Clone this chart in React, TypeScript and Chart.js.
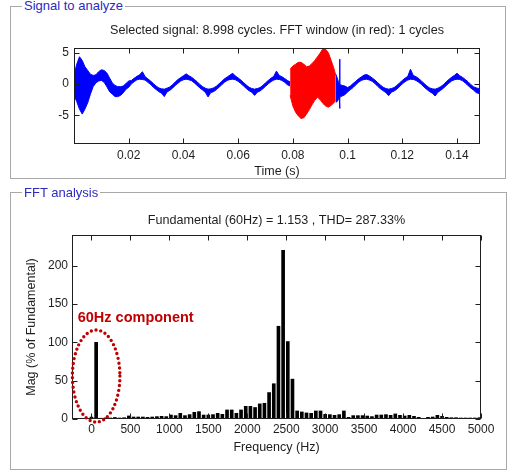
import React, { useEffect, useRef } from 'react';
import { Chart, registerables } from 'chart.js';

Chart.register(...registerables);

const FONT = '"Liberation Sans", Arial, Helvetica, sans-serif';
const INK = '#1e1e1e';
const PANEL_TITLE = '#2b2bc0';
const CALLOUT = '#c00000';

// ---------------- Panel 1: signal to analyze ----------------
const signalPanelLabel = 'Signal to analyze';
const signalTitle = 'Selected signal: 8.998 cycles. FFT window (in red): 1 cycles';
const timeAxisLabel = 'Time (s)';
const timeMin = 0;
const timeMax = 0.1484;
const timeTicks = [0.02, 0.04, 0.06, 0.08, 0.1, 0.12, 0.14];
const signalMin = -9.6;
const signalMax = 5.8;
const signalTicks = [-5, 0, 5];

// blue trace before the FFT window (time in ms, upper / lower edge of the noisy trace)
const blueATimeMs = [
  0, 1, 2, 3, 4, 5, 6, 7, 8, 9, 10, 11, 12, 13, 14, 15, 16, 17, 18, 19,
  20, 21, 22, 23, 24, 25, 26, 27, 28, 29, 30, 31, 32, 33, 34, 35, 36, 37, 38, 39,
  40, 41, 42, 43, 44, 45, 46, 47, 48, 49, 50, 51, 52, 53, 54, 55, 56, 57, 58, 59,
  60, 61, 62, 63, 64, 65, 66, 67, 68, 69, 70, 71, 72, 73, 74, 75, 76, 77, 78, 79,
];
const blueAUpper = [
  1.5, 3.2, 4.4, 3.8, 2.8, 2.2, 1.6, 1.4, 1.5, 2.0, 2.3, 2.2, 1.8, 1.0, 0.2, -0.2, -0.4, -0.4, -0.3, 0.1,
  0.5, 0.6, 0.95, 1.25, 1.5, 2.0, 1.2, 0.85, 0.5, 0.1, -0.3, -0.6, -0.75, -0.8, -0.65, -0.45, -0.1, 0.35, 0.75, 1.05,
  1.35, 1.65, 1.35, 1.1, 0.75, 0.4, -0.05, -0.4, -0.65, -0.8, -0.75, -0.6, -0.35, 0.05, 0.45, 0.85, 1.15, 1.45, 1.75, 1.3,
  1.0, 0.65, 0.25, -0.15, -0.5, -0.7, -0.8, -0.7, -0.55, -0.2, 0.2, 0.6, 0.95, 1.25, 2.1, 1.4, 1.2, 0.9, 0.6, 0.35,
];
const blueALower = [
  -1.8, -2.8, -4.0, -4.8, -4.0, -3.0, -1.6, -0.4, 0.2, 0.5, 0.6, 0.3, -0.4, -1.2, -1.6, -2.0, -2.0, -1.8, -1.4, -0.8,
  -0.5, 0.05, 0.4, 0.7, 0.8, 0.75, 0.65, 0.3, -0.05, -0.5, -0.85, -1.2, -1.45, -2.0, -1.25, -1.0, -0.65, -0.2, 0.15, 0.5,
  0.7, 0.8, 0.7, 0.55, 0.2, -0.2, -0.6, -0.95, -1.3, -2.05, -1.35, -1.2, -0.9, -0.5, -0.1, 0.3, 0.6, 0.75, 0.8, 0.7,
  0.45, 0.1, -0.3, -0.7, -1.05, -1.3, -1.8, -1.3, -1.1, -0.75, -0.35, 0.05, 0.4, 0.65, 0.8, 0.75, 0.6, 0.3, -0.1, -0.3,
];

// red FFT window
const redTimeMs = [79, 80, 81, 82, 83, 84, 85, 86, 87, 88, 89, 90, 91, 92, 93, 94, 95, 95.7];
const redUpper = [2.4, 2.9, 3.2, 3.5, 3.5, 3.2, 2.8, 2.9, 3.3, 3.8, 4.4, 5.0, 5.7, 5.6, 5.0, 3.8, 2.5, 1.4];
const redLower = [-1.8, -3.5, -4.5, -5.1, -5.5, -5.4, -4.8, -4.1, -3.3, -2.6, -2.1, -2.5, -3.1, -3.5, -3.7, -3.4, -3.0, -2.6];

// blue trace after the FFT window
const blueBTimeMs = [
  95.7, 96.2, 96.7, 97.0, 97.1, 97.2, 97.5, 98, 99,
  100, 101, 102, 103, 104, 105, 106, 107, 108, 109, 110, 111, 112, 113, 114, 115, 116, 117, 118, 119,
  120, 121, 122, 123, 124, 125, 126, 127, 128, 129, 130, 131, 132, 133, 134, 135, 136, 137, 138, 139,
  140, 141, 142, 143, 144, 145, 146, 147, 148, 148.4,
];
const blueBUpper = [
  1.6, 1.0, 0.3, 0.0, 4.0, 0.0, -0.1, -0.2, -0.3,
  -0.55, -0.3, 0.1, 0.45, 0.85, 1.15, 1.45, 1.55, 1.3, 1.0, 0.65, 0.25, -0.15, -0.5, -0.7, -0.8, -0.7, -0.55, -0.2, 0.2,
  0.6, 0.95, 1.25, 2.4, 1.4, 1.2, 0.9, 0.5, 0.1, -0.3, -0.6, -0.75, -0.8, -0.65, -0.4, -0.1, 0.35, 0.75, 1.1, 1.4,
  1.75, 1.35, 1.1, 0.75, 0.4, -0.05, -0.4, -0.6, -0.7, -0.65,
];
const blueBLower = [
  -2.9, -2.8, -2.4, -2.2, -3.9, -2.2, -2.0, -1.9, -1.7,
  -1.25, -0.9, -0.55, -0.1, 0.3, 0.6, 0.75, 0.8, 0.65, 0.45, 0.1, -0.35, -0.75, -1.05, -1.35, -1.85, -1.3, -1.1, -0.8, -0.4,
  0.05, 0.4, 0.65, 0.8, 0.75, 0.6, 0.3, -0.05, -0.5, -0.85, -1.2, -1.45, -1.9, -1.3, -1.0, -0.65, -0.25, 0.15, 0.5, 0.7,
  0.8, 0.75, 0.55, 0.2, -0.2, -0.6, -0.95, -1.35, -1.5, -1.2,
];

// ---------------- Panel 2: FFT analysis ----------------
const fftPanelLabel = 'FFT analysis';
const fftTitle = 'Fundamental (60Hz) = 1.153 , THD= 287.33%';
const freqAxisLabel = 'Frequency (Hz)';
const magAxisLabel = 'Mag (% of Fundamental)';
const freqMin = -250;
const freqMax = 5000;
const freqTicks = [0, 500, 1000, 1500, 2000, 2500, 3000, 3500, 4000, 4500, 5000];
const magMin = 0;
const magMax = 240;
const magTicks = [0, 50, 100, 150, 200];

const harmonicFreqHz = [
  0, 60, 120, 180, 240, 300, 360, 420, 480, 540, 600, 660, 720, 780, 840, 900, 960, 1020, 1080, 1140,
  1200, 1260, 1320, 1380, 1440, 1500, 1560, 1620, 1680, 1740, 1800, 1860, 1920, 1980, 2040, 2100, 2160, 2220, 2280, 2340,
  2400, 2460, 2520, 2580, 2640, 2700, 2760, 2820, 2880, 2940, 3000, 3060, 3120, 3180, 3240, 3300, 3360, 3420, 3480, 3540,
  3600, 3660, 3720, 3780, 3840, 3900, 3960, 4020, 4080, 4140, 4200, 4260, 4320, 4380, 4440, 4500, 4560, 4620, 4680, 4740,
  4800, 4860, 4920, 4980,
];
const harmonicMag = [
  2.5, 100, 1.0, 1.5, 1.3, 2.0, 1.3, 1.7, 4.0, 2.6, 2.6, 2.6, 2.2, 2.6, 3.1, 3.5, 3.1, 5.2, 4.4, 7.4,
  4.4, 5.7, 8.7, 9.6, 5.2, 5.2, 5.7, 7.4, 6.1, 11.8, 11.8, 7.4, 11.8, 16.5, 16.5, 15.0, 19.7, 20.5, 34.5, 46,
  121, 220, 101, 52, 10.5, 9.2, 7.9, 7.4, 10.5, 10.5, 6.1, 5.7, 4.8, 5.7, 10.5, 2.2, 4.4, 4.4, 4.4, 3.9,
  3.1, 5.2, 5.2, 5.7, 4.8, 6.6, 4.8, 3.9, 4.8, 3.5, 2.2, 0.9, 2.2, 2.6, 4.8, 3.5, 2.2, 1.7, 1.7, 1.3,
  1.3, 1.3, 1.3, 1.7,
];

const calloutText = '60Hz component';
const calloutAnchor = { x: -177, y: 132 }; // data units (Hz, %)
const ellipseCenter = { x: 60, y: 56 };
const ellipseRadius = { x: 305, y: 60 };

// ---------------- helpers ----------------
const toPoints = (tMs: number[], v: number[]) => tMs.map((t, i) => ({ x: t / 1000, y: v[i] }));

const band = (tMs: number[], up: number[], lo: number[], color: string) => [
  {
    data: toPoints(tMs, up),
    borderColor: color,
    backgroundColor: color,
    borderWidth: 1,
    pointRadius: 0,
    fill: false,
    tension: 0,
  },
  {
    data: toPoints(tMs, lo),
    borderColor: color,
    backgroundColor: color,
    borderWidth: 1,
    pointRadius: 0,
    fill: '-1',
    tension: 0,
  },
];

type Deco = {
  id: string;
  title: string;
  titleGap: number;
  xTitle: string;
  xTitleGap: number;
  yTitle?: string;
  yTitleGap?: number;
  xTicks: number[];
  yTicks: number[];
  tickLen: number;
  extra?: (chart: any) => void;
};

const TITLE_FONT = `12.6px ${FONT}`;
const LABEL_FONT = `12.5px ${FONT}`;

function makeDeco(cfg: Deco) {
  return {
    id: cfg.id,
    afterDraw(chart: any) {
      const { ctx, chartArea: a } = chart;
      const xs = chart.scales.x;
      const ys = chart.scales.y;
      ctx.save();
      ctx.strokeStyle = INK;
      ctx.lineWidth = 1;
      const L = Math.round(a.left) + 0.5;
      const R = Math.round(a.right) - 0.5;
      const T = Math.round(a.top) + 0.5;
      const B = Math.round(a.bottom) - 0.5;
      ctx.strokeRect(L, T, R - L, B - T);
      ctx.beginPath();
      cfg.xTicks.forEach((v) => {
        const px = Math.round(xs.getPixelForValue(v)) + 0.5;
        ctx.moveTo(px, B);
        ctx.lineTo(px, B - cfg.tickLen);
        ctx.moveTo(px, T);
        ctx.lineTo(px, T + cfg.tickLen);
      });
      cfg.yTicks.forEach((v) => {
        const py = Math.round(ys.getPixelForValue(v)) + 0.5;
        ctx.moveTo(L, py);
        ctx.lineTo(L + cfg.tickLen, py);
        ctx.moveTo(R, py);
        ctx.lineTo(R - cfg.tickLen, py);
      });
      ctx.stroke();

      ctx.fillStyle = INK;
      ctx.textAlign = 'center';
      ctx.textBaseline = 'middle';
      const cx = (a.left + a.right) / 2;
      ctx.font = TITLE_FONT;
      ctx.fillText(cfg.title, cx, a.top - cfg.titleGap);
      ctx.font = LABEL_FONT;
      ctx.fillText(cfg.xTitle, cx, a.bottom + cfg.xTitleGap);
      if (cfg.yTitle) {
        ctx.save();
        ctx.translate(a.left - (cfg.yTitleGap || 40), (a.top + a.bottom) / 2);
        ctx.rotate(-Math.PI / 2);
        ctx.fillText(cfg.yTitle, 0, 0);
        ctx.restore();
      }
      if (cfg.extra) cfg.extra(chart);
      ctx.restore();
    },
  };
}

const tickFont = { family: FONT, size: 12 };

function fixedAxis(size: number, horizontal: boolean) {
  return (s: any) => {
    if (horizontal) s.height = size;
    else s.width = size;
    s.paddingLeft = 0;
    s.paddingRight = 0;
    s.paddingTop = 0;
    s.paddingBottom = 0;
  };
}

function SignalChart() {
  const ref = useRef<HTMLCanvasElement>(null);
  useEffect(() => {
    const chart = new Chart(ref.current as HTMLCanvasElement, {
      type: 'line',
      data: {
        datasets: [
          ...band(blueATimeMs, blueAUpper, blueALower, '#0000ff'),
          ...band(redTimeMs, redUpper, redLower, '#ff0000'),
          ...band(blueBTimeMs, blueBUpper, blueBLower, '#0000ff'),
        ] as any,
      },
      options: {
        animation: false,
        responsive: false,
        devicePixelRatio: 1,
        layout: { padding: { left: 34, right: 30, top: 48, bottom: 6 } },
        plugins: { legend: { display: false }, tooltip: { enabled: false }, title: { display: false } },
        scales: {
          x: {
            type: 'linear',
            min: timeMin,
            max: timeMax,
            afterBuildTicks: (s: any) => {
              s.ticks = timeTicks.map((v) => ({ value: v }));
            },
            afterFit: fixedAxis(30, true),
            grid: { display: false, drawTicks: false },
            border: { display: false },
            ticks: { font: tickFont, color: INK, padding: 4, maxRotation: 0, autoSkip: false, callback: (v: any) => String(v) },
          },
          y: {
            type: 'linear',
            min: signalMin,
            max: signalMax,
            afterBuildTicks: (s: any) => {
              s.ticks = signalTicks.map((v) => ({ value: v }));
            },
            afterFit: fixedAxis(40, false),
            grid: { display: false, drawTicks: false },
            border: { display: false },
            ticks: { font: tickFont, color: INK, padding: 5, autoSkip: false, callback: (v: any) => String(v) },
          },
        },
      } as any,
      plugins: [
        makeDeco({
          id: 'decoSignal',
          title: signalTitle,
          titleGap: 17,
          xTitle: timeAxisLabel,
          xTitleGap: 27.7,
          xTicks: timeTicks,
          yTicks: signalTicks,
          tickLen: 5,
        }),
      ],
    });
    return () => chart.destroy();
  }, []);
  return (
    <canvas
      ref={ref}
      width={510}
      height={180}
      style={{ position: 'absolute', left: 0, top: 0, width: 510, height: 180 }}
    />
  );
}

function FftChart() {
  const ref = useRef<HTMLCanvasElement>(null);
  useEffect(() => {
    const chart = new Chart(ref.current as HTMLCanvasElement, {
      type: 'bar',
      data: {
        datasets: [
          {
            data: harmonicFreqHz.map((f, i) => ({ x: f, y: harmonicMag[i] })),
            backgroundColor: '#000000',
            borderWidth: 0,
            barThickness: 3,
          },
        ] as any,
      },
      options: {
        animation: false,
        responsive: false,
        devicePixelRatio: 1,
        layout: { padding: { left: 32, right: 29, top: 55, bottom: 22 } },
        plugins: { legend: { display: false }, tooltip: { enabled: false }, title: { display: false } },
        scales: {
          x: {
            type: 'linear',
            min: freqMin,
            max: freqMax,
            offset: false,
            afterBuildTicks: (s: any) => {
              s.ticks = freqTicks.map((v) => ({ value: v }));
            },
            afterFit: fixedAxis(30, true),
            grid: { display: false, drawTicks: false, offset: false },
            border: { display: false },
            ticks: { font: tickFont, color: INK, padding: 3, maxRotation: 0, autoSkip: false, callback: (v: any) => String(v) },
          },
          y: {
            type: 'linear',
            min: magMin,
            max: magMax,
            afterBuildTicks: (s: any) => {
              s.ticks = magTicks.map((v) => ({ value: v }));
            },
            afterFit: fixedAxis(40, false),
            grid: { display: false, drawTicks: false },
            border: { display: false },
            ticks: { font: tickFont, color: INK, padding: 4, autoSkip: false, callback: (v: any) => String(v) },
          },
        },
      } as any,
      plugins: [
        makeDeco({
          id: 'decoFft',
          title: fftTitle,
          titleGap: 14.3,
          xTitle: freqAxisLabel,
          xTitleGap: 28.3,
          yTitle: magAxisLabel,
          yTitleGap: 40.5,
          xTicks: freqTicks,
          yTicks: magTicks,
          tickLen: 5,
          extra: (c: any) => {
            const { ctx } = c;
            const xs = c.scales.x;
            const ys = c.scales.y;
            const cx = xs.getPixelForValue(ellipseCenter.x);
            const cy = ys.getPixelForValue(ellipseCenter.y);
            const rx = Math.abs(xs.getPixelForValue(ellipseCenter.x + ellipseRadius.x) - cx);
            const ry = Math.abs(ys.getPixelForValue(ellipseCenter.y + ellipseRadius.y) - cy);
            ctx.save();
            ctx.strokeStyle = CALLOUT;
            ctx.lineWidth = 3.4;
            ctx.lineCap = 'round';
            ctx.setLineDash([0, 4.8]);
            ctx.beginPath();
            ctx.ellipse(cx, cy, rx, ry, 0, 0, Math.PI * 2);
            ctx.stroke();
            ctx.restore();
            ctx.fillStyle = CALLOUT;
            ctx.font = `bold 14.5px ${FONT}`;
            ctx.textAlign = 'left';
            ctx.textBaseline = 'middle';
            ctx.fillText(calloutText, xs.getPixelForValue(calloutAnchor.x), ys.getPixelForValue(calloutAnchor.y));
          },
        }),
      ],
    });
    return () => chart.destroy();
  }, []);
  return (
    <canvas
      ref={ref}
      width={510}
      height={291}
      style={{ position: 'absolute', left: 0, top: 180, width: 510, height: 291 }}
    />
  );
}

const panelBox: React.CSSProperties = {
  position: 'absolute',
  border: '1px solid #a8a8a8',
  boxSizing: 'border-box',
};

const panelLabel: React.CSSProperties = {
  position: 'absolute',
  fontFamily: FONT,
  fontSize: 13,
  lineHeight: '14px',
  color: PANEL_TITLE,
  background: '#ffffff',
  padding: '0 2px',
  whiteSpace: 'nowrap',
};

export default function App() {
  return (
    <div
      style={{
        position: 'absolute',
        left: 0,
        top: 0,
        width: 510,
        height: 471,
        background: '#ffffff',
        overflow: 'hidden',
      }}
    >
      <div style={{ ...panelBox, left: 10, top: 6, width: 496, height: 173 }} />
      <div style={{ ...panelBox, left: 10, top: 192, width: 497, height: 278 }} />
      <SignalChart />
      <FftChart />
      <span style={{ ...panelLabel, left: 22, top: -1 }}>{signalPanelLabel}</span>
      <span style={{ ...panelLabel, left: 22, top: 186 }}>{fftPanelLabel}</span>
    </div>
  );
}
